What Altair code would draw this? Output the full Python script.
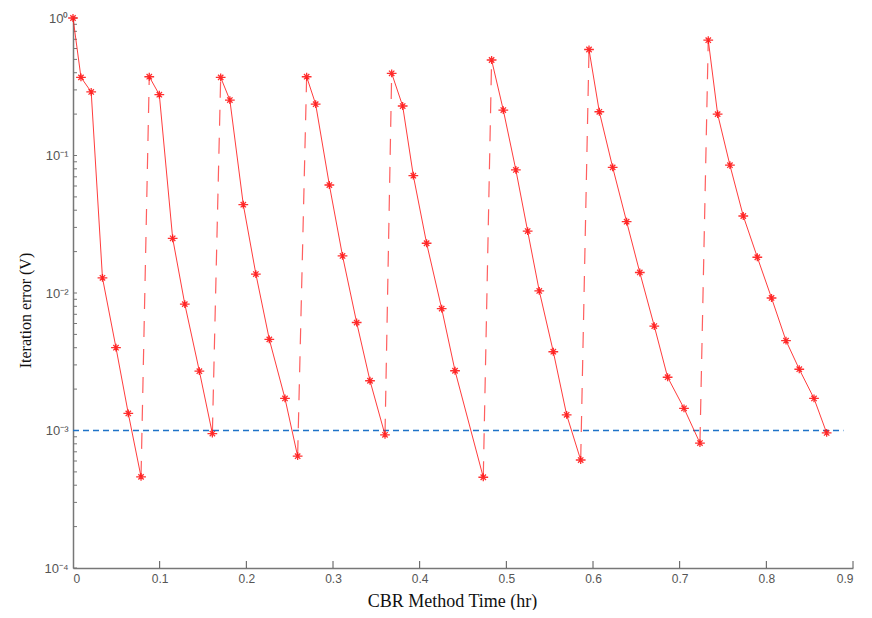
import altair as alt
import pandas as pd

# --- data (time in hr, iteration error in V) ---
cycle_times = [
    [0.0, 0.0092, 0.021, 0.034, 0.0496, 0.0638, 0.0785],
    [0.088, 0.0996, 0.115, 0.129, 0.1458, 0.1608],
    [0.1704, 0.181, 0.1965, 0.211, 0.2265, 0.2446, 0.2592],
    [0.2696, 0.280, 0.2958, 0.311, 0.3273, 0.3427, 0.360],
    [0.3677, 0.3804, 0.3927, 0.408, 0.4254, 0.4408, 0.4734],
    [0.483, 0.4965, 0.511, 0.5246, 0.538, 0.5542, 0.5696, 0.5858],
    [0.5954, 0.6073, 0.6227, 0.6388, 0.654, 0.6707, 0.6861, 0.705, 0.7234],
    [0.733, 0.7438, 0.758, 0.7734, 0.7896, 0.806, 0.8227, 0.838, 0.855, 0.8696],
]
cycle_errors = [
    [1.0, 0.37, 0.29, 0.0129, 0.0040, 0.00133, 0.00046],
    [0.374, 0.277, 0.025, 0.0083, 0.0027, 0.00095],
    [0.37, 0.253, 0.0439, 0.01374, 0.0046, 0.00171, 0.00065],
    [0.374, 0.236, 0.061, 0.0186, 0.0061, 0.0023, 0.00093],
    [0.396, 0.229, 0.0713, 0.023, 0.0077, 0.00272, 0.000457],
    [0.495, 0.214, 0.0785, 0.0282, 0.01035, 0.00374, 0.0013, 0.00061],
    [0.59, 0.208, 0.082, 0.033, 0.0141, 0.00575, 0.00244, 0.00145, 0.00081],
    [0.69, 0.20, 0.085, 0.0363, 0.0182, 0.0092, 0.0045, 0.00279, 0.00171, 0.00096],
]
threshold = 0.001
threshold_span = [0.0, 0.889]

x_ticks = [0.0, 0.1, 0.2, 0.3, 0.4, 0.5, 0.6, 0.7, 0.8, 0.9]
y_major = [1.0, 0.1, 0.01, 0.001, 0.0001]
y_labels = ["10⁰", "10⁻¹", "10⁻²", "10⁻³", "10⁻⁴"]
y_minor = [m * 10.0 ** k for k in range(-4, 0) for m in range(2, 10)]

W, H = 780, 550
RED = "#ff1a1a"

rows = []
for c, (ts, es) in enumerate(zip(cycle_times, cycle_errors)):
    for i, (t, e) in enumerate(zip(ts, es)):
        rows.append({"cycle": c, "order": i, "t": t, "err": e})
df = pd.DataFrame(rows)

jumps = pd.DataFrame([
    {"t": cycle_times[c][-1], "err": cycle_errors[c][-1],
     "t2": cycle_times[c + 1][0], "err2": cycle_errors[c + 1][0]}
    for c in range(len(cycle_times) - 1)
])

thr_df = pd.DataFrame({"t": [threshold_span[0]], "t2": [threshold_span[1]], "err": [threshold]})

xscale = alt.Scale(domain=[0, 0.9], nice=False, zero=False)
yscale = alt.Scale(type="log", domain=[1e-4, 1], nice=False)

label_expr = " : ".join(
    f"datum.value == {v} ? '{l}'" for v, l in zip(y_major, y_labels)
) + " : ''"

xaxis = alt.Axis(values=x_ticks, ticks=False, grid=False,
                 labelExpr="datum.value == 0 ? '0' : format(datum.value, '.1f')",
                 labelFont="Liberation Sans", labelFontSize=12, labelColor="#555",
                 labelPadding=5, title="CBR Method Time (hr)",
                 titleFont="Liberation Serif", titleFontSize=18, titleFontWeight="normal",
                 titleColor="#111", titlePadding=8, titleX=379,
                 domainColor="#777", domainWidth=1.5)
yaxis = alt.Axis(values=y_major, ticks=False, grid=False, labelExpr=label_expr,
                 labelFont="Liberation Sans", labelFontSize=13, labelColor="#555",
                 labelPadding=5, title="Iteration error (V)",
                 titleFont="Liberation Serif", titleFontSize=16, titleFontWeight="normal",
                 titleColor="#111", titlePadding=10, titleY=292,
                 domainColor="#777", domainWidth=1.5)

base = alt.Chart(df)

lines = base.mark_line(color=RED, strokeWidth=1, opacity=0.85).encode(
    x=alt.X("t:Q", scale=xscale, axis=xaxis),
    y=alt.Y("err:Q", scale=yscale, axis=yaxis),
    detail="cycle:N",
    order="order:Q",
)

star = "M-1,0L1,0M0,-0.8L0,0.8M-0.55,-0.55L0.55,0.55M-0.55,0.55L0.55,-0.55"
points = base.mark_point(shape=star, filled=False, color=RED, size=95,
                         strokeWidth=1.3, opacity=0.9).encode(
    x=alt.X("t:Q", scale=xscale),
    y=alt.Y("err:Q", scale=yscale),
)

jump_rules = alt.Chart(jumps).mark_rule(color=RED, strokeWidth=1.2, opacity=0.7,
                                        strokeDash=[16, 12]).encode(
    x=alt.X("t:Q", scale=xscale), x2="t2:Q",
    y=alt.Y("err:Q", scale=yscale), y2="err2:Q",
)

thr = alt.Chart(thr_df).mark_rule(color="#1f73c8", strokeWidth=1.3,
                                  strokeDash=[6, 4]).encode(
    x=alt.X("t:Q", scale=xscale), x2="t2:Q",
    y=alt.Y("err:Q", scale=yscale),
)

ytick_df = pd.DataFrame({"v": y_major + y_minor})
yticks = alt.Chart(ytick_df).mark_rule(color="#777", strokeWidth=1).encode(
    y=alt.Y("v:Q", scale=yscale), x=alt.value(0), x2=alt.value(4),
)
xtick_df = pd.DataFrame({"v": x_ticks[1:]})
xticks = alt.Chart(xtick_df).mark_rule(color="#555", strokeWidth=1).encode(
    x=alt.X("v:Q", scale=xscale), y=alt.value(H), y2=alt.value(H - 7),
)

chart = alt.layer(yticks, xticks, thr, jump_rules, lines, points).properties(
    width=W, height=H,
    background="white",
    autosize=alt.AutoSizeParams(type="none"),
    padding={"left": 65, "top": 10, "right": 10, "bottom": 42},
).configure_view(strokeWidth=0, stroke=None)

chart.save("out.html", embed_options={"renderer": "svg", "actions": False})
